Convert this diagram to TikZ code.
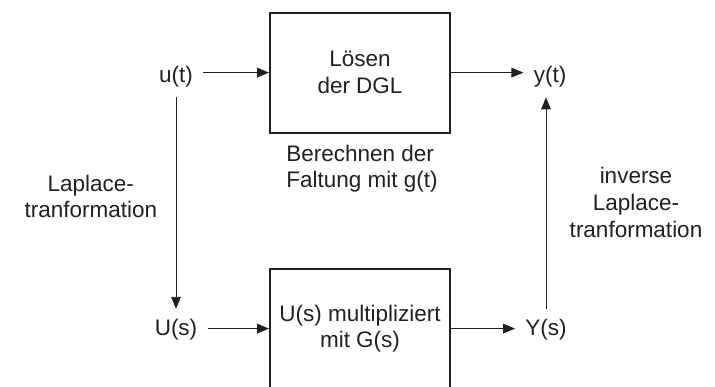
\documentclass[tikz,border=0pt]{standalone}
\usepackage{fontspec}
\setmainfont{Liberation Sans}
\usetikzlibrary{arrows.meta}
\definecolor{ink}{RGB}{35,31,32}
\tikzset{
    blockbox/.style={draw=ink, line width=1.4pt, minimum width=4.5cm, minimum height=3cm, align=center},
    signal/.style={inner sep=0.25cm},
    flow/.style={draw=ink, line width=0.6pt, -{Triangle[length=3mm,width=2.4mm]}}
}
\begin{document}
\begin{tikzpicture}[every node/.style={text=ink, font=\fontsize{16}{19}\selectfont}]
        \useasboundingbox (0,0.04) rectangle (17.875,9.715);
        % Zeitbereich
        \node[blockbox] (dgl) at (9,7.9) {Lösen\\der DGL};
        \node[signal] (ut) at (4.4,7.8) {u(t)};
        \node[signal] (yt) at (13.75,7.8) {y(t)};
        \node[align=left] (faltung) at (9.05,5.5) {Berechnen der\\Faltung mit g(t)};
        % Bildbereich
        \node[blockbox] (mult) at (9,1.5) {U(s) multipliziert\\mit G(s)};
        \node[signal] (Us) at (4.4,1.475) {U(s)};
        \node[signal] (Ys) at (13.65,1.475) {Y(s)};
        % Transformationen
        \node[align=center] (lt) at (2.27,4.8) {Laplace-\\tranformation};
        \node[align=center] (ilt) at (15.9,4.65) {inverse\\Laplace-\\tranformation};

        \draw[flow] (ut.east |- dgl.west) -- (dgl.west);
        \draw[flow] (dgl.east) -- (yt.west |- dgl.east);
        \draw[flow] (Us.east |- mult.west) -- (mult.west);
        \draw[flow] (mult.east) -- (Ys.west |- mult.east);
        \draw[flow] (ut.south) -- (Us.north);
        \draw[flow] (Ys.north) -- (Ys.north |- yt.south);
    \end{tikzpicture}
\end{document}
